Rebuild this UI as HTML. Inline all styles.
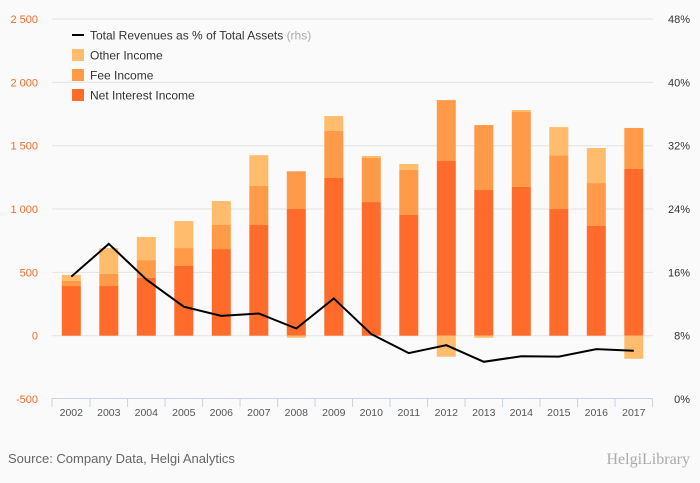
<!DOCTYPE html>
<html><head><meta charset="utf-8"><style>
body{margin:0;background:#fafafa;font-family:"Liberation Sans",sans-serif}
svg{display:block}
</style></head><body>
<svg id="c" width="700" height="483" xmlns="http://www.w3.org/2000/svg">
<rect width="700" height="483" fill="#fafafa"/>
</svg>
<script>
const years=["2002","2003","2004","2005","2006","2007","2008","2009","2010","2011","2012","2013","2014","2015","2016","2017"];
const netInterest=[392,392,458,553,684,874,1000,1245,1055,953,1379,1150,1174,1000,866,1316];
const feeIncome=[40,97,139,139,190,308,298,371,348,356,481,513,592,425,339,324];
const otherIncome=[48,203,182,213,189,243,-16,118,16,47,-166,-16,16,222,277,-182];
const revPct=[15.45,19.6,15.1,11.66,10.5,10.8,8.9,12.7,8.2,5.8,6.8,4.7,5.4,5.35,6.3,6.1];
const leftTicks=[-500,0,500,1000,1500,2000,2500];
const leftLabels=["-500","0","500","1 000","1 500","2 000","2 500"];
const rightTicks=[0,8,16,24,32,40,48];
const rightLabels=["0%","8%","16%","24%","32%","40%","48%"];

const svg=document.getElementById('c');
const NS="http://www.w3.org/2000/svg";
const y0=335.7,k=0.12667;
const yL=v=>y0-v*k;
const yR=p=>399-p*7.917;
const xC=i=>71.3+i*37.5;
const bw=19;
function mk(t,a,p){const e=document.createElementNS(NS,t);for(const q in a)e.setAttribute(q,a[q]);(p||svg).appendChild(e);return e;}

leftTicks.forEach((v,i)=>{
  if(v>-500){const g=mk('line',{x1:52,x2:653,y1:yL(v),y2:yL(v),stroke:'#e3e3e3','stroke-width':1});
  
  }
  const t=mk('text',{x:38,y:yL(v)+4,'text-anchor':'end','font-size':11,fill:'#f26b2b'});
  t.textContent=leftLabels[i];
  
  
});
rightTicks.forEach((p,i)=>{
  const t=mk('text',{x:690,y:yR(p)+4,'text-anchor':'end','font-size':11,fill:'#333'});
  t.textContent=rightLabels[i];
  
  
});
years.forEach((yr,i)=>{
  const x=xC(i)-bw/2;
  const segs=[[0,netInterest[i],'#ff6b2b','bar-net-interest'],[netInterest[i],netInterest[i]+feeIncome[i],'#ff9b48','bar-fee-income']];
  let top=netInterest[i]+feeIncome[i];
  if(otherIncome[i]>=0)segs.push([top,top+otherIncome[i],'#ffbc6c','bar-other-income']);
  else segs.push([otherIncome[i],0,'#ffbc6c','bar-other-income']);
  segs.forEach(s=>{
    const r=mk('rect',{x:x,y:yL(s[1]),width:bw,height:Math.max(0,yL(s[0])-yL(s[1])),fill:s[2]});
    
    
  });
  const t=mk('text',{x:xC(i),y:416,'text-anchor':'middle','font-size':10.5,fill:'#555'});
  t.textContent=yr;
  
  
  const tk=mk('line',{x1:xC(i)+18.75,x2:xC(i)+18.75,y1:398,y2:407,stroke:'#c8d4e6'});
  
  
});
const ax=mk('line',{x1:52,x2:653,y1:398.5,y2:398.5,stroke:'#c8d4e6'});


const t0=mk('line',{x1:52,x2:52,y1:398,y2:407,stroke:'#c8d4e6'});


const pl=mk('polyline',{points:revPct.map((p,i)=>xC(i)+','+yR(p)).join(' '),fill:'none',stroke:'#000','stroke-width':2});


const lg=mk('g',{});


const ll=mk('line',{x1:72,x2:84,y1:35,y2:35,stroke:'#000','stroke-width':2},lg);


const lt=mk('text',{x:90,y:39.5,'font-size':12,fill:'#333'},lg);
lt.innerHTML='Total Revenues as % of Total Assets <tspan fill="#aaa">(rhs)</tspan>';


[['Other Income','#ffbc6c',55],['Fee Income','#ff9b48',75],['Net Interest Income','#ff6b2b',95]].forEach(e=>{
  const r=mk('rect',{x:72,y:e[2]-6,width:12,height:12,fill:e[1]},lg);
  
  
  const t=mk('text',{x:90,y:e[2]+4.5,'font-size':12,fill:'#333'},lg);
  t.textContent=e[0];
  
  
});
const src=mk('text',{x:8,y:463,'font-size':13,fill:'#666'});
src.textContent='Source: Company Data, Helgi Analytics';


const logo=mk('text',{x:690,y:464,'text-anchor':'end','font-size':16,fill:'#aaa','font-family':'Liberation Serif, serif'});
logo.textContent='HelgiLibrary';


</script>
</body></html>
